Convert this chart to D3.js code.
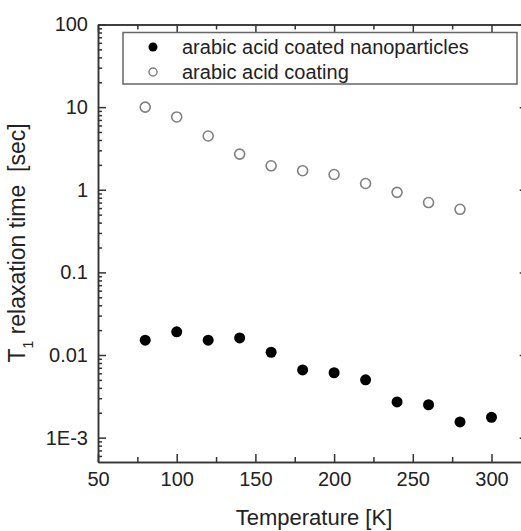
<!DOCTYPE html>
<html>
<head>
<meta charset="utf-8">
<script src="https://cdn.jsdelivr.net/npm/d3@7"></script>
<style>
  html, body { margin: 0; padding: 0; background: #fff; overflow: hidden; }
  svg { display: block; font-family: "Liberation Sans", Arial, sans-serif; }
  .axis path, .axis line { stroke: #333; stroke-width: 1.5; }
  .axis text { fill: #222; font-size: 20px; font-family: "Liberation Sans", Arial, sans-serif; }
</style>
</head>
<body>
<svg id="chart" width="521" height="531"></svg>
<script>
// data
const temperatures = [80, 100, 120, 140, 160, 180, 200, 220, 240, 260, 280, 300];
const coatedNanoparticles = [0.0151, 0.0191, 0.0151, 0.0161, 0.0108, 0.0066, 0.0061, 0.0050, 0.0027, 0.0025, 0.00155, 0.00176];
const coatingTemps = [80, 100, 120, 140, 160, 180, 200, 220, 240, 260, 280];
const coating = [10.0, 7.6, 4.47, 2.7, 1.95, 1.70, 1.53, 1.19, 0.93, 0.70, 0.58];

const xMajorTicks = [50, 100, 150, 200, 250, 300];
const xMinorTicks = [75, 125, 175, 225, 275];
const yMajorTicks = [100, 10, 1, 0.1, 0.01, 0.001];
const yTickLabels = ['100', '10', '1', '0.1', '0.01', '1E-3'];
const legendLabels = ['arabic acid coated nanoparticles', 'arabic acid coating'];

const svg = d3.select('#chart');
const margin = {top: 24.5, left: 98, bottom: 462};

// right edge of the frame lies just outside the picture
const x = d3.scaleLinear().domain([50, 323]).range([margin.left, 98 + 273 * 1.574]);
const y = d3.scaleLog().domain([5.07e-4, 100]).range([margin.bottom, margin.top]);

// minor log ticks 2..9 per decade
const yMinorTicks = [];
[-4, -3, -2, -1, 0, 1].forEach((e) => {
    d3.range(2, 10).forEach((m) => {
        const v = m * Math.pow(10, e);
        if (v >= y.domain()[0] && v <= y.domain()[1]) yMinorTicks.push(v);
    });
});

const xLeft = x.range()[0], xRight = x.range()[1];

const addAxis = (axis, transform) => {
    svg.append('g').attr('class', 'axis')
        .attr('transform', transform)
        .call(axis);
};

// left axis (ticks inside, labels outside)
addAxis(d3.axisLeft(y).tickValues(yMinorTicks).tickSize(-4).tickSizeOuter(0).tickFormat(''), `translate(${xLeft},0)`);
addAxis(d3.axisLeft(y).tickValues(yMajorTicks).tickSize(-8).tickSizeOuter(0).tickPadding(10)
    .tickFormat((d, i) => yTickLabels[i]), `translate(${xLeft},0)`);

// right axis
addAxis(d3.axisRight(y).tickValues(yMinorTicks).tickSize(-4).tickSizeOuter(0).tickFormat(''), `translate(${xRight},0)`);
addAxis(d3.axisRight(y).tickValues(yMajorTicks).tickSize(-8).tickSizeOuter(0).tickFormat(''), `translate(${xRight},0)`);

// bottom axis
addAxis(d3.axisBottom(x).tickValues(xMinorTicks).tickSize(-5).tickSizeOuter(0).tickFormat(''), `translate(0,${margin.bottom})`);
addAxis(d3.axisBottom(x).tickValues(xMajorTicks).tickSize(-8).tickSizeOuter(0).tickPadding(10)
    .tickFormat(d3.format('d')), `translate(0,${margin.bottom})`);

// top axis
addAxis(d3.axisTop(x).tickValues(xMinorTicks).tickSize(-5).tickSizeOuter(0).tickFormat(''), `translate(0,${margin.top})`);
addAxis(d3.axisTop(x).tickValues(xMajorTicks).tickSize(-8).tickSizeOuter(0).tickFormat(''), `translate(0,${margin.top})`);

svg.selectAll('.axis .domain').attr('stroke-width', 2);
svg.selectAll('.axis text').filter(function () { return this.textContent === ''; }).remove();

// data points
svg.append('g').selectAll('circle')
    .data(coatingTemps)
    .enter()
        .append('circle')
            .attr('cx', (d) => x(d))
            .attr('cy', (d, i) => y(coating[i]))
            .attr('r', 5)
            .attr('fill', 'none')
            .attr('stroke', '#808080')
            .attr('stroke-width', 1.6);

svg.append('g').selectAll('circle')
    .data(temperatures)
    .enter()
        .append('circle')
            .attr('cx', (d) => x(d))
            .attr('cy', (d, i) => y(coatedNanoparticles[i]))
            .attr('r', 5.5)
            .attr('fill', '#000');

// legend
const legend = svg.append('g');
legend.append('rect')
    .attr('x', 123).attr('y', 32.5)
    .attr('width', 394).attr('height', 51.5)
    .attr('fill', '#fff')
    .attr('stroke', '#666')
    .attr('stroke-width', 1.5);
legend.append('circle').attr('cx', 153).attr('cy', 47).attr('r', 4.5).attr('fill', '#000');
legend.append('circle').attr('cx', 153).attr('cy', 72).attr('r', 4)
    .attr('fill', 'none').attr('stroke', '#808080').attr('stroke-width', 1.5);
legend.selectAll('text')
    .data(legendLabels)
    .enter()
        .append('text')
            .attr('x', 182)
            .attr('y', (d, i) => 54 + i * 25)
            .attr('font-size', 20)
            .attr('fill', '#222')
            .text((d) => d);

// axis titles
svg.append('text')
    .attr('x', 314)
    .attr('y', 525)
    .attr('text-anchor', 'middle')
    .attr('font-size', 22)
    .attr('fill', '#222')
    .text('Temperature [K]');

const yTitle = svg.append('text')
    .attr('transform', 'translate(25,243) rotate(-90)')
    .attr('text-anchor', 'middle')
    .attr('font-size', 23)
    .attr('fill', '#222')
    .style('white-space', 'pre');
yTitle.append('tspan').text('T');
yTitle.append('tspan').attr('font-size', 14).attr('dy', 8).text('1');
yTitle.append('tspan').attr('dy', -8).text(' relaxation time  [sec]');
</script>
</body>
</html>
